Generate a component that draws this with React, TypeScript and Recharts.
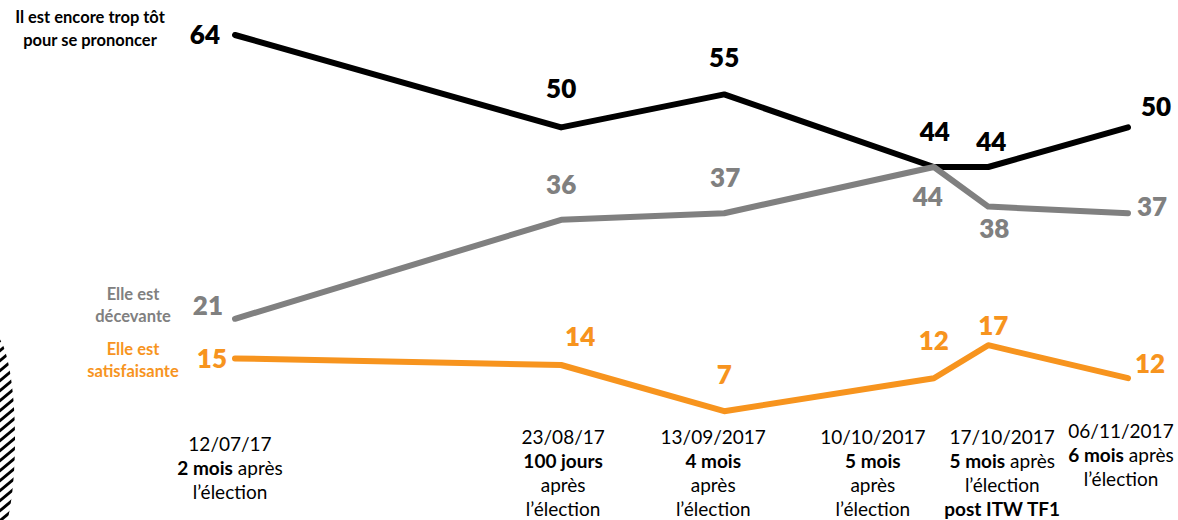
import React from 'react';
import { LineChart, Line, XAxis, YAxis, LabelList } from 'recharts';

// Day offsets from 12/07/17, read from the horizontal positions of the points
const xDays = [0, 42, 63, 90, 97, 115];
const tropTot = [64, 50, 55, 44, 44, 50];
const decevante = [21, 36, 37, 44, 38, 37];
const satisfaisante = [15, 14, 7, 12, 17, 12];

const tickLabels = [
  ['12/07/17', '**2 mois** après', 'l’élection'],
  ['23/08/17', '**100 jours**', 'après', 'l’élection'],
  ['13/09/2017', '**4 mois**', 'après', 'l’élection'],
  ['10/10/2017', '**5 mois**', 'après', 'l’élection'],
  ['17/10/2017', '**5 mois** après', 'l’élection', '**post ITW TF1**'],
  ['06/11/2017', '**6 mois** après', 'l’élection'],
];

const seriesNames = {
  tot: ['Il est encore trop tôt', 'pour se prononcer'],
  dec: ['Elle est', 'décevante'],
  sat: ['Elle est', 'satisfaisante'],
};

const BLACK = '#000000';
const GRAY = '#808080';
const ORANGE = '#f7941e';
const FONT = 'Lato, "Open Sans", sans-serif';

const data = xDays.map((d, i) => ({
  day: d,
  tot: tropTot[i],
  dec: decevante[i],
  sat: satisfaisante[i],
}));

type Off = [number, number, 'start' | 'middle' | 'end'];
const totOff: Off[] = [[-15, 9, 'end'], [0, -29, 'middle'], [0, -27, 'middle'], [1, -26, 'middle'], [3, -16, 'middle'], [13, -11, 'start']];
const decOff: Off[] = [[-12, -4, 'end'], [0, -26, 'middle'], [1, -26, 'middle'], [-6, 39, 'middle'], [6, 31, 'middle'], [9, 3, 'start']];
const satOff: Off[] = [[-8, 10, 'end'], [19, -19, 'middle'], [0, -27, 'middle'], [0, -28, 'middle'], [5, -10, 'middle'], [7, -5, 'start']];

const makeLabel = (offs: Off[], color: string) => (props: any) => {
  const { x, y, value, index } = props;
  const o = offs[index] || [0, -10, 'middle'];
  return (
    <text x={x + o[0]} y={y + o[1]} textAnchor={o[2]} fill={color}
      fontFamily={FONT} fontWeight={800} fontSize={26}>
      {value}
    </text>
  );
};

const tickDx = [-5, 2, -11, -61, 14, -7];
const tickY0 = [451, 444, 444, 444, 444, 438];

const renderLine = (s: string, key: number, x: number, y: number) => {
  const parts = s.split('**');
  return (
    <text key={key} x={x} y={y} textAnchor="middle" fill="#000" fontFamily={FONT} fontSize={19}>
      {parts.map((p, i) => p ? <tspan key={i} fontWeight={i % 2 === 1 ? 700 : 400}>{p}</tspan> : null)}
    </text>
  );
};

const XTick = (props: any) => {
  const { x, index } = props;
  const lines = tickLabels[index] || [];
  const cx = x + (tickDx[index] || 0);
  const y0 = tickY0[index] || 444;
  return <g>{lines.map((l, i) => renderLine(l, i, cx, y0 + i * 24))}</g>;
};

const Hatch = () => {
  const ys: number[] = [];
  for (let y = 330; y <= 530; y += 10) ys.push(y);
  return (
    <g>
      <defs>
        <clipPath id="hatchClip">
          <ellipse cx={-6} cy={440} rx={21} ry={105} />
        </clipPath>
      </defs>
      <g clipPath="url(#hatchClip)">
        {ys.map((y) => (
          <line key={y} x1={-4} y1={y + 14} x2={20} y2={y - 6} stroke="#000" strokeWidth={3} />
        ))}
      </g>
    </g>
  );
};

export default function App() {
  return (
    <div style={{ position: 'fixed', left: 0, top: 0, width: 1178, height: 520, background: '#fff' }}>
      <LineChart width={1178} height={520} data={data}
        margin={{ top: 35, right: 50, bottom: 0, left: 235 }}>
        <XAxis dataKey="day" type="number" domain={[0, 115]} ticks={xDays} interval={0}
          axisLine={false} tickLine={false} height={62.6} tick={<XTick />} />
        <YAxis hide domain={[0, 64]} />
        <Line dataKey="tot" stroke={BLACK} strokeWidth={6} dot={false} isAnimationActive={false}
          strokeLinecap="round" strokeLinejoin="round">
          <LabelList dataKey="tot" content={makeLabel(totOff, BLACK)} />
        </Line>
        <Line dataKey="dec" stroke={GRAY} strokeWidth={6} dot={false} isAnimationActive={false}
          strokeLinecap="round" strokeLinejoin="round">
          <LabelList dataKey="dec" content={makeLabel(decOff, GRAY)} />
        </Line>
        <Line dataKey="sat" stroke={ORANGE} strokeWidth={6} dot={false} isAnimationActive={false}
          strokeLinecap="round" strokeLinejoin="round">
          <LabelList dataKey="sat" content={makeLabel(satOff, ORANGE)} />
        </Line>
      </LineChart>
      <svg width={1178} height={520} style={{ position: 'absolute', left: 0, top: 0, pointerEvents: 'none' }}>
        <Hatch />
        <g fontFamily={FONT} fontWeight={700} fontSize={16.5} textAnchor="middle">
          <text x={90} y={23} fill={BLACK}>{seriesNames.tot[0]}</text>
          <text x={90} y={46} fill={BLACK}>{seriesNames.tot[1]}</text>
          <text x={133} y={300} fill={GRAY}>{seriesNames.dec[0]}</text>
          <text x={133} y={322} fill={GRAY}>{seriesNames.dec[1]}</text>
          <text x={133} y={355} fill={ORANGE}>{seriesNames.sat[0]}</text>
          <text x={133} y={377} fill={ORANGE}>{seriesNames.sat[1]}</text>
        </g>
      </svg>
    </div>
  );
}
